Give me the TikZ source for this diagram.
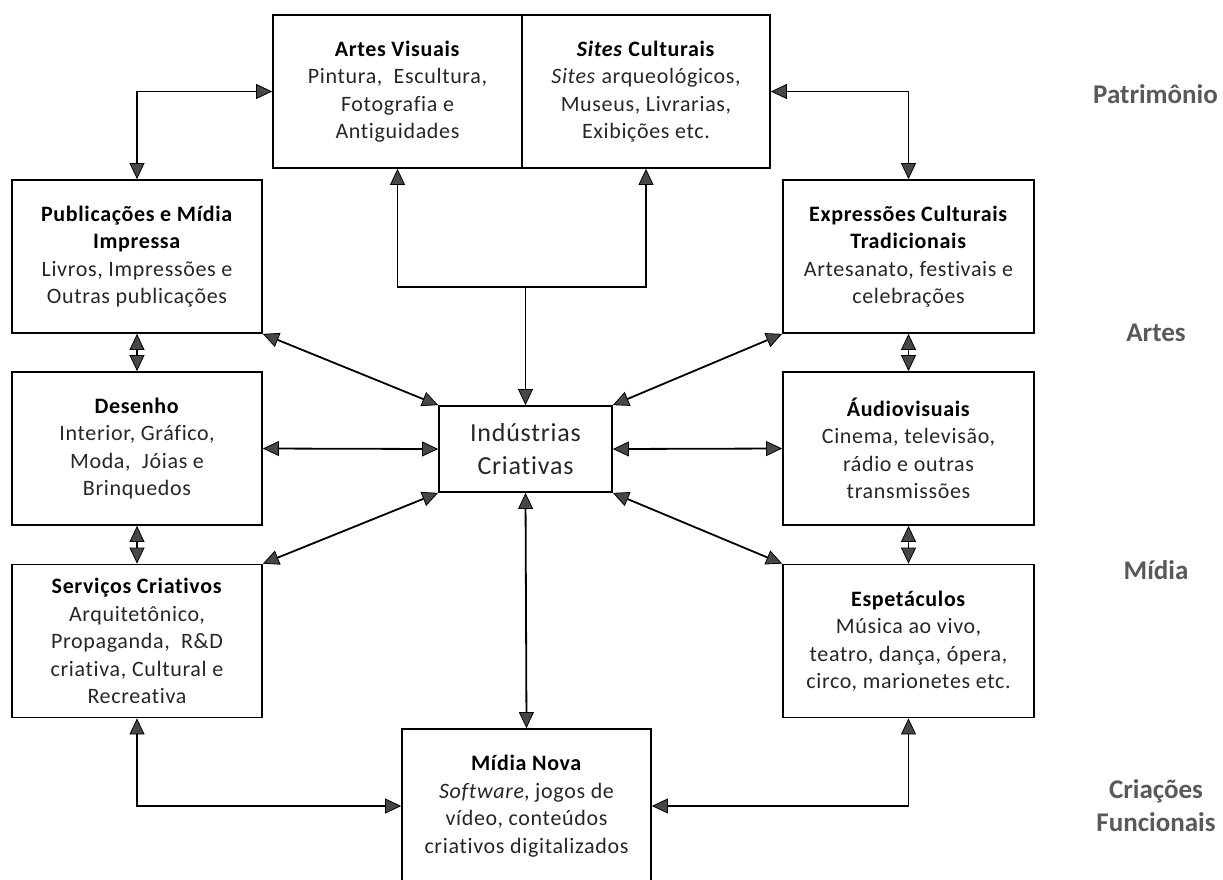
\documentclass[tikz,border=0pt]{standalone}
\usepackage{fontspec}
\setmainfont{Carlito}[Ligatures={NoCommon},LetterSpace=3]
\newfontfamily\tierfont{Carlito}[Ligatures={NoCommon}]
\usetikzlibrary{arrows.meta}
\definecolor{labelgray}{HTML}{595959}
\definecolor{bodytext}{HTML}{262626}
\tikzset{
  tip/.tip={Triangle[length=16pt,width=15pt,fill=black!72,line width=0.8pt]},
  cat/.style={draw=black,line width=1.8pt,minimum width=250pt,minimum height=153pt,
    inner sep=0pt,align=center,text=bodytext,
    font=\fontsize{22}{27.5}\selectfont},
  hub/.style={draw=black,line width=1.8pt,minimum width=173pt,minimum height=86pt,
    inner sep=0pt,align=center,text=black!85,
    font=\fontsize{26}{33}\selectfont},
  tier/.style={align=center,text=labelgray,inner sep=0pt,
    font=\tierfont\fontsize{27}{33}\selectfont\bfseries},
  link/.style={line width=1.8pt,tip-tip},
  feed/.style={line width=1.8pt,-tip},
}
\newcommand{\hd}[1]{\textcolor{black}{\textbf{#1}}}
\begin{document}
\begin{tikzpicture}[x=1pt,y=-1pt]
\useasboundingbox (0,0) rectangle (1223,879);

% top pair of heritage boxes
\node[cat,minimum width=249pt] (av) at (397.5,91.5)
  {\hd{Artes Visuais}\\Pintura,~ Escultura,\\Fotografia e\\Antiguidades};
\node[cat,minimum width=248pt] (sc) at (646,91.5)
  {\hd{\textit{Sites} Culturais}\\\textit{Sites} arqueológicos,\\Museus, Livrarias,\\Exibições etc.};

% left column
\node[cat] (pub) at (137,256.5)
  {\hd{Publicações e Mídia}\\\hd{Impressa}\\Livros, Impressões e\\Outras publicações};
\node[cat] (des) at (137,448.5)
  {\hd{Desenho}\\Interior, Gráfico,\\Moda,~ Jóias e\\Brinquedos};
\node[cat] (ser) at (137,641)
  {\hd{Serviços Criativos}\\Arquitetônico,\\Propaganda,~ R\&D\\criativa, Cultural e\\Recreativa};

% right column
\node[cat,minimum width=251pt] (exp) at (908.5,256.5)
  {\hd{Expressões Culturais}\\\hd{Tradicionais}\\Artesanato, festivais e\\celebrações};
\node[cat,minimum width=251pt] (aud) at (908.5,448.5)
  {\hd{Áudiovisuais}\\Cinema, televisão,\\rádio e outras\\transmissões};
\node[cat,minimum width=251pt] (esp) at (908.5,641)
  {\hd{Espetáculos}\\Música ao vivo,\\teatro, dança, ópera,\\circo, marionetes etc.};

% centre and bottom
\node[hub] (ci) at (525.5,449) {Indústrias\\Criativas};
\node[cat,minimum width=249pt,minimum height=154pt] (mn) at (526.5,806)
  {\hd{Mídia Nova}\\\textit{Software}, jogos de\\vídeo, conteúdos\\criativos digitalizados};

% tier labels
\node[tier] (t1) at (1155.5,94) {Patrimônio};
\node[tier] (t2) at (1156,333) {Artes};
\node[tier] (t3) at (1156,570) {Mídia};
\node[tier] (t4) at (1156,806) {Criações\\Funcionais};

% connectors
\coordinate (fork) at (525.5,287);
\draw[link] (av.south) |- (fork) -| (sc.south);
\draw[feed] (fork) -- (ci.north);

\draw[link] (av.west) -| (pub.north);
\draw[link] (sc.east) -| (exp.north);

\draw[link] (pub.south) -- (des.north);
\draw[link] (des.south) -- (ser.north);
\draw[link] (exp.south) -- (aud.north);
\draw[link] (aud.south) -- (esp.north);

\draw[link] (pub.south east) -- (ci.north west);
\draw[link] (des.east) -- (ci.west);
\draw[link] (ser.north east) -- (ci.south west);
\draw[link] (exp.south west) -- (ci.north east);
\draw[link] (aud.west) -- (ci.east);
\draw[link] (esp.north west) -- (ci.south east);

\draw[link] (ci.south) -- (mn.north);
\draw[link] (ser.south) |- (mn.west);
\draw[link] (esp.south) |- (mn.east);
\end{tikzpicture}
\end{document}
